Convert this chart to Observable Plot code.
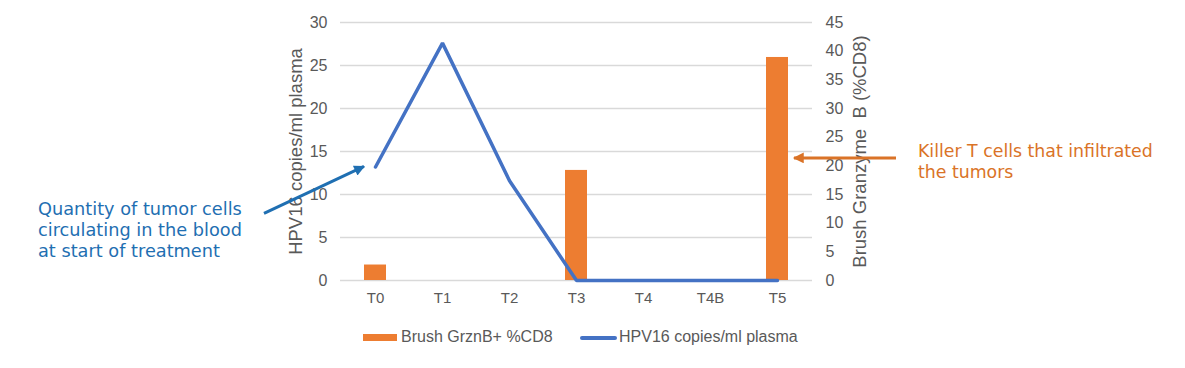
<!DOCTYPE html>
<html><head><meta charset="utf-8">
<script src="https://cdn.jsdelivr.net/npm/d3@7"></script>
<script src="https://cdn.jsdelivr.net/npm/@observablehq/plot@0.6"></script>
<style>
html,body{margin:0;padding:0;background:#fff;}
body{width:1185px;height:368px;overflow:hidden;position:relative;font-family:"Liberation Sans",Arial,sans-serif;}
#chart{position:absolute;left:0;top:0;}
.lg{position:absolute;font-size:16px;line-height:20px;color:#595959;white-space:nowrap;}
.sw{position:absolute;}
</style></head><body>
<div id="chart"></div>
<div id="legend"></div>
<script>
// ---- data ----
const timepoints = ["T0", "T1", "T2", "T3", "T4", "T4B", "T5"];
const grznB = [2.7, null, null, 19.2, null, null, 38.9];   // Brush GrznB+ %CD8 (right axis)
const hpv16 = [13.2, 27.6, 11.6, 0, 0, 0, 0];              // HPV16 copies/ml plasma (left axis)
const leftTicks = [0, 5, 10, 15, 20, 25, 30];
const rightTicks = [0, 5, 10, 15, 20, 25, 30, 35, 40, 45];
const seriesNames = ["Brush GrznB+ %CD8", "HPV16 copies/ml plasma"];
const leftTitle = "HPV16 copies/ml plasma";
const rightTitle = "Brush Granzyme  B (%CD8)";
const noteBlue = ["Quantity of tumor cells", "circulating in the blood", "at start of treatment"];
const noteOrange = ["Killer T cells that infiltrated", "the tumors"];

const ORANGE = "#ED7D31", BLUE = "#4472C4", GRAY = "#595959";
const ratio = 30 / 45;
const rows = timepoints.map((t, i) => ({t, g: grznB[i], h: hpv16[i]}));
const barRows = rows.filter(d => d.g != null);

const plot = Plot.plot({
  width: 1185, height: 322,
  marginLeft: 340, marginRight: 373, marginTop: 22, marginBottom: 42,
  style: {fontFamily: '"Liberation Sans", Arial, sans-serif', fontSize: "16px", color: GRAY, background: "white"},
  x: {type: "band", domain: timepoints, paddingInner: 0.67, paddingOuter: 0.335, label: null},
  y: {domain: [0, 30], label: null},
  marks: [
    Plot.ruleY(leftTicks, {stroke: "#D9D9D9", strokeWidth: 1.3}),
    Plot.barY(barRows, {x: "t", y: d => d.g * ratio, fill: ORANGE}),
    Plot.line(rows, {x: "t", y: "h", stroke: BLUE, strokeWidth: 3.5, strokeLinejoin: "miter"}),
    Plot.axisY(leftTicks, {anchor: "left", tickSize: 0, tickPadding: 13, fontSize: 16, label: null}),
    Plot.axisY(rightTicks.map(v => v * ratio), {anchor: "right", tickSize: 0, tickPadding: 13, fontSize: 16,
      tickFormat: d => String(Math.round(d / ratio)), label: null}),
    Plot.axisX({tickSize: 0, tickPadding: 12, fontSize: 15, label: null}),
    Plot.text([leftTitle], {frameAnchor: "left", dx: -44, rotate: -90, textAnchor: "middle", lineAnchor: "middle", fontSize: 18.5, fill: GRAY, text: d => d}),
    Plot.text([rightTitle], {frameAnchor: "right", dx: 48, rotate: -90, textAnchor: "middle", lineAnchor: "middle", fontSize: 18.5, fill: GRAY, text: d => d})
  ]
});
document.getElementById("chart").appendChild(plot);

// ---- annotations, anchored through the plot's scales ----
const xs = plot.scale("x"), ys = plot.scale("y");
const bw = xs.bandwidth;
const svg = d3.select(plot);
const defs = svg.append("defs");
function marker(id, color) {
  defs.append("marker").attr("id", id).attr("viewBox", "0 0 10 10").attr("refX", 9).attr("refY", 5)
    .attr("markerWidth", 4.6).attr("markerHeight", 3.6).attr("orient", "auto").attr("markerUnits", "strokeWidth")
    .append("path").attr("d", "M0,0 L10,5 L0,10 z").attr("fill", color);
}
const NBLUE = "#1F6FB2", NORANGE = "#DA7327";
marker("mb", NBLUE); marker("mo", NORANGE);

// blue arrow pointing at the first HPV16 value
const p0x = xs.apply("T0") + bw / 2, p0y = ys.apply(hpv16[0]);
svg.append("line").attr("x1", p0x - 111).attr("y1", p0y + 47).attr("x2", p0x - 11).attr("y2", p0y)
  .attr("stroke", NBLUE).attr("stroke-width", 3).attr("marker-end", "url(#mb)");
// orange arrow pointing at the T5 bar
const b5x = xs.apply("T5") + bw, b5y = ys.apply(21.3 * ratio);
svg.append("line").attr("x1", b5x + 108).attr("y1", b5y).attr("x2", b5x + 6).attr("y2", b5y)
  .attr("stroke", NORANGE).attr("stroke-width", 3).attr("marker-end", "url(#mo)");

function note(lines, x, y0, lh, color, targetW) {
  const g = svg.append("g").attr("font-family", '"DejaVu Sans", sans-serif').attr("fill", color)
    .attr("text-anchor", "start");
  const ts = lines.map((s, i) => g.append("text").attr("x", x).attr("y", y0 + i * lh)
    .attr("text-anchor", "start").attr("font-size", 16).text(s));
  const w = ts[0].node().getComputedTextLength();
  const fs = 16 * targetW / w;
  ts.forEach(t => t.attr("font-size", fs));
}
note(noteBlue, 38, 215, 21, NBLUE, 204);
note(noteOrange, 918, 157, 20.5, NORANGE, 235);

// ---- legend ----
const lg = document.getElementById("legend");
lg.innerHTML = `
  <div class="sw" style="left:363px;top:334px;width:34px;height:7px;background:${ORANGE}"></div>
  <div class="lg" style="left:401px;top:327px">${seriesNames[0]}</div>
  <div class="sw" style="left:580px;top:336px;width:37px;height:3.5px;background:${BLUE};border-radius:2px"></div>
  <div class="lg" style="left:619px;top:327px">${seriesNames[1]}</div>`;
</script>
</body></html>
